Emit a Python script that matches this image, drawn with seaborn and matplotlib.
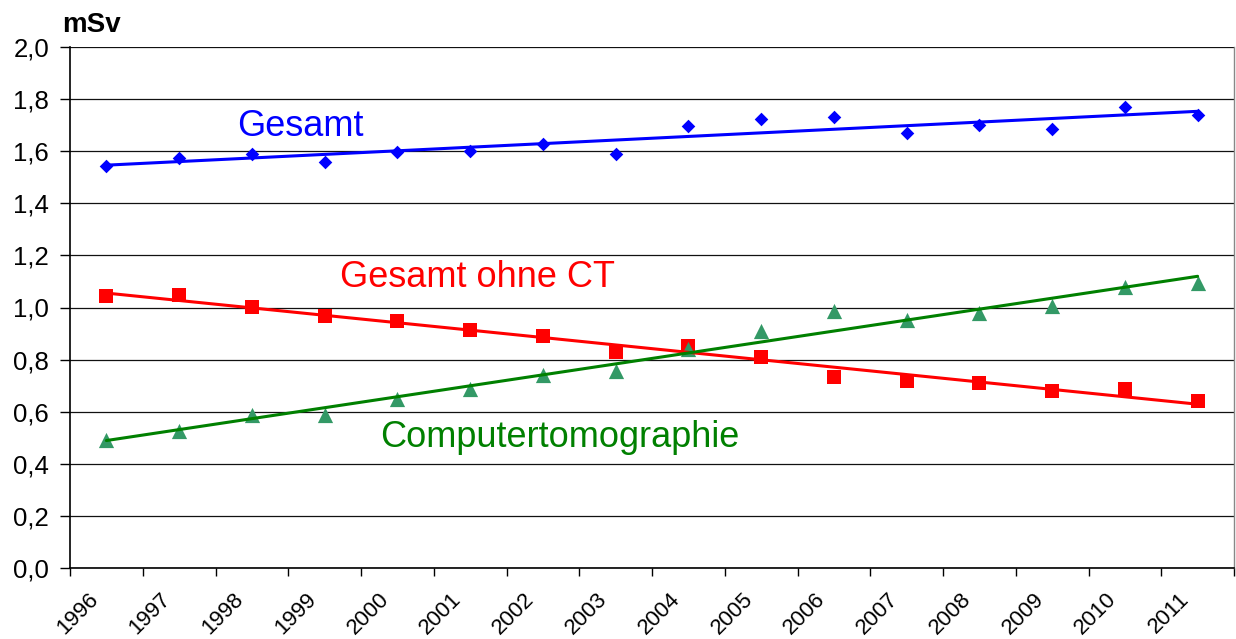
import matplotlib
matplotlib.use("Agg")
import matplotlib.pyplot as plt
from matplotlib.ticker import FixedLocator, FuncFormatter, NullFormatter
from matplotlib.transforms import ScaledTranslation
import seaborn as sns
import numpy as np

# --- Data ---
years = ['1996', '1997', '1998', '1999', '2000', '2001', '2002', '2003',
         '2004', '2005', '2006', '2007', '2008', '2009', '2010', '2011']
gesamt = [1.543, 1.574, 1.589, 1.559, 1.597, 1.601, 1.628, 1.589,
          1.697, 1.724, 1.731, 1.670, 1.700, 1.685, 1.770, 1.739]
ohne_ct = [1.044, 1.048, 1.002, 0.967, 0.948, 0.914, 0.891, 0.829,
           0.852, 0.810, 0.733, 0.718, 0.710, 0.679, 0.687, 0.641]
ct = [0.491, 0.526, 0.587, 0.587, 0.649, 0.687, 0.741, 0.756,
      0.841, 0.910, 0.987, 0.952, 0.979, 1.006, 1.079, 1.094]

BLUE = '#0000FF'
RED = '#FF0000'
GREEN_MARK = '#339966'
GREEN_LINE = '#008000'

sns.set_style("white")
plt.rcParams['font.family'] = ['Liberation Sans', 'DejaVu Sans']
plt.rcParams['text.color'] = 'black'
plt.rcParams['xtick.color'] = 'black'
plt.rcParams['ytick.color'] = 'black'


def main():
    fig = plt.figure(figsize=(12.36, 6.39), dpi=100)
    ax = fig.add_axes([70 / 1236, 1 - 568 / 639, 1164 / 1236, 521 / 639])

    x = np.arange(len(years))

    series = [
        (gesamt, 'D', 48, BLUE, BLUE),
        (ohne_ct, 's', 105, RED, RED),
        (ct, '^', 120, GREEN_MARK, GREEN_LINE),
    ]
    for vals, marker, size, mcol, lcol in series:
        sns.regplot(x=x, y=np.array(vals), ax=ax, ci=None, marker=marker,
                    scatter_kws=dict(s=size, color=mcol, alpha=1, linewidths=0, zorder=3),
                    line_kws=dict(color=lcol, lw=2.2, zorder=4))

    # series labels
    ax.text(1.80, 1.658, 'Gesamt', color=BLUE, fontsize=26, ha='left', va='baseline')
    ax.text(3.21, 1.079, 'Gesamt ohne CT', color=RED, fontsize=26, ha='left', va='baseline')
    ax.text(3.76, 0.464, 'Computertomographie', color=GREEN_LINE, fontsize=26,
            ha='left', va='baseline')

    # axes
    ax.set_xlim(-0.5, len(years) - 0.5)
    ax.set_ylim(0, 2.0)
    ax.set_xlabel('')
    ax.set_ylabel('')
    ax.set_yticks(np.arange(0, 2.01, 0.2))
    ax.yaxis.set_major_formatter(FuncFormatter(lambda v, p: f"{v:.1f}".replace('.', ',')))
    ax.grid(axis='y', color='#111111', lw=0.9)
    ax.set_axisbelow(True)

    # ticks between categories, labels at category centres
    ax.xaxis.set_major_locator(FixedLocator(np.arange(-0.5, len(years), 1.0)))
    ax.xaxis.set_major_formatter(NullFormatter())
    ax.xaxis.set_minor_locator(FixedLocator(x))
    ax.set_xticklabels(years, minor=True, rotation=45, ha='right',
                       rotation_mode='anchor', fontsize=16)
    ax.tick_params(axis='x', which='major', direction='out', length=6,
                   width=1, color='black', bottom=True)
    ax.tick_params(axis='x', which='minor', length=0, pad=15)
    ax.tick_params(axis='y', direction='out', length=7, width=1, color='black',
                   left=True, labelsize=18.5, pad=8)
    shift = ScaledTranslation(-19 / 100, 0, fig.dpi_scale_trans)
    for lab in ax.get_xticklabels(minor=True):
        lab.set_transform(lab.get_transform() + shift)

    for side in ['left', 'bottom']:
        ax.spines[side].set_color('black')
        ax.spines[side].set_linewidth(1.2)
    ax.spines['top'].set_visible(False)
    ax.spines['right'].set_color('#888888')
    ax.spines['right'].set_linewidth(1)

    fig.text(62 / 1236, 1 - 12 / 639, 'mSv', fontsize=20, fontweight='bold',
             ha='left', va='top')

    fig.savefig('out.png', dpi=100)


if __name__ == "__main__":
    main()
